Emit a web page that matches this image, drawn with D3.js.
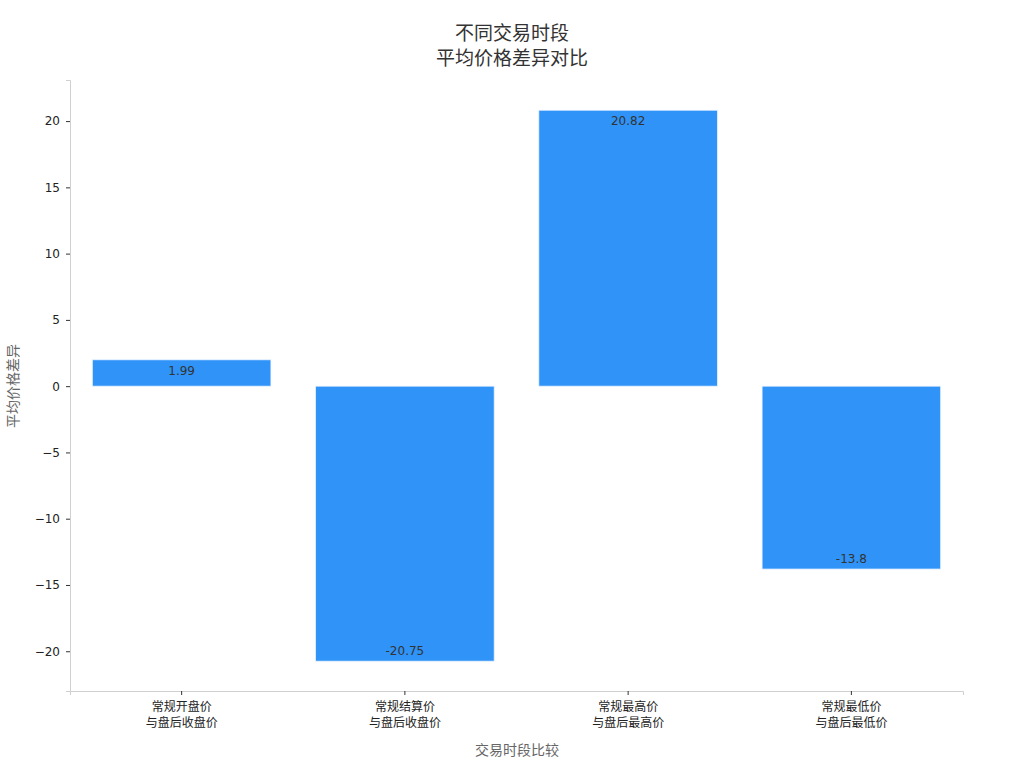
<!DOCTYPE html>
<html><head><meta charset="utf-8">
<script src="https://cdn.jsdelivr.net/npm/d3@7"></script>
<style>body{margin:0;background:#fff}text{font-family:"DejaVu Sans","Noto Sans CJK SC",sans-serif}</style>
</head><body><svg width="1024" height="768"></svg>
<script>
"use strict";
const categories = ["常规开盘价\n与盘后收盘价", "常规结算价\n与盘后收盘价", "常规最高价\n与盘后最高价", "常规最低价\n与盘后最低价"];
const values = [1.99, -20.75, 20.82, -13.8];
const yTicks = [-20, -15, -10, -5, 0, 5, 10, 15, 20];

const svg = d3.select("svg");
const plotLeft = 70, plotRight = 963, plotTop = 80, plotBottom = 691;

const x = d3.scaleBand().domain(categories).range([plotLeft, plotRight]).paddingInner(0.2).paddingOuter(0.1);
const y = d3.scaleLinear().domain([-23.0, 23.1]).range([plotBottom, plotTop]);

const yAxis = svg.append("g").attr("transform", `translate(${plotLeft},0)`)
    .call(d3.axisLeft(y).tickValues(yTicks).tickSize(4).tickPadding(6).tickFormat(d => d < 0 ? "\u2212" + Math.abs(d) : d));
yAxis.select(".domain").attr("stroke", "#d0d0d0");
yAxis.selectAll(".tick line").attr("stroke", "#333");
yAxis.selectAll(".tick text").attr("font-size", 12).attr("fill", "#222");

const xAxis = svg.append("g").attr("transform", `translate(0,${plotBottom})`)
    .call(d3.axisBottom(x).tickSize(4).tickFormat(""));
xAxis.select(".domain").attr("stroke", "#d0d0d0");
xAxis.selectAll(".tick line").attr("stroke", "#333");
xAxis.selectAll(".tick").each(function(d) {
    const t = d3.select(this).append("text").attr("fill", "#222").attr("font-size", 12).attr("text-anchor", "middle");
    d.split("\n").forEach((line, i) => t.append("tspan").attr("x", 0).attr("y", 20 + i * 16).text(line));
});

svg.selectAll("rect.bar").data(values).join("rect").attr("class", "bar")
    .attr("x", (d, i) => x(categories[i]))
    .attr("width", x.bandwidth())
    .attr("y", d => y(Math.max(0, d)))
    .attr("height", d => Math.abs(y(d) - y(0)))
    .attr("fill", "#2f93f8").attr("stroke", "#e8f2fe").attr("stroke-width", 0.8);

svg.selectAll("text.val").data(values).join("text").attr("class", "val")
    .attr("x", (d, i) => x(categories[i]) + x.bandwidth() / 2)
    .attr("y", d => d >= 0 ? y(d) + 15 : y(d) - 6)
    .attr("text-anchor", "middle").attr("font-size", 12).attr("fill", "#333")
    .text(d => d);

svg.append("text").attr("x", 512).attr("y", 40).attr("text-anchor", "middle").attr("font-size", 19).attr("fill", "#333").text("不同交易时段");
svg.append("text").attr("x", 512).attr("y", 65).attr("text-anchor", "middle").attr("font-size", 19).attr("fill", "#333").text("平均价格差异对比");
svg.append("text").attr("x", 517).attr("y", 755).attr("text-anchor", "middle").attr("font-size", 14).attr("fill", "#666").text("交易时段比较");
svg.append("text").attr("transform", `translate(18,386) rotate(-90)`).attr("text-anchor", "middle").attr("font-size", 14).attr("fill", "#666").text("平均价格差异");
</script></body></html>
